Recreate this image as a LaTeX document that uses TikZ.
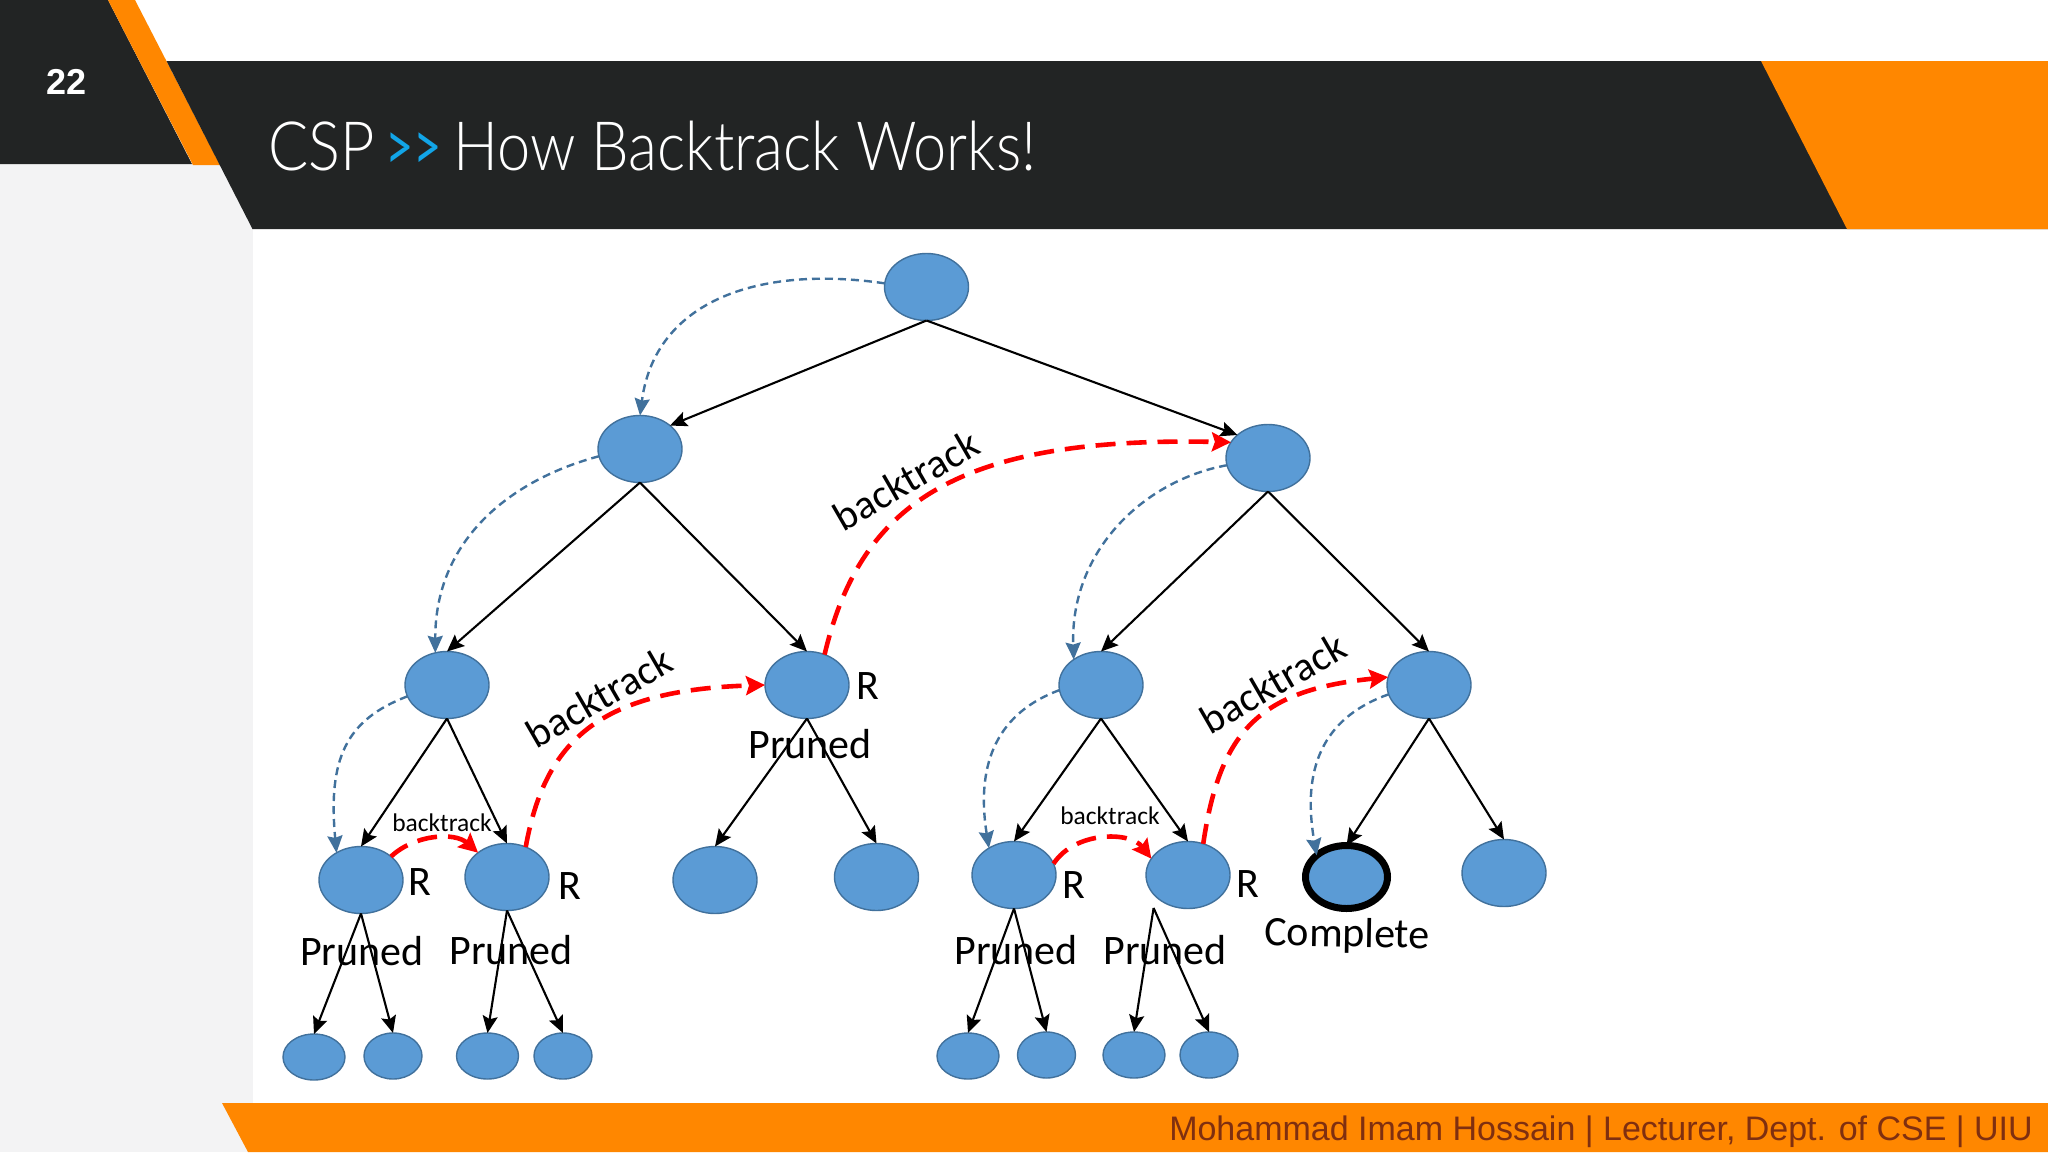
\documentclass[tikz,border=0pt]{standalone}
\usepackage{fontspec}
\usepackage{graphicx}
\setmainfont{Carlito}
\newfontfamily\sansf{Liberation Sans}
\newfontfamily\titlef{Lato Light}[FakeStretch=0.875]
\newfontfamily\titleg{Lato}[FakeStretch=0.72]
\usetikzlibrary{arrows.meta,shapes.geometric}
\definecolor{darkband}{HTML}{222424}
\definecolor{orangeb}{HTML}{FF8700}
\definecolor{greyp}{HTML}{F3F3F4}
\definecolor{nodefill}{HTML}{5B9BD5}
\definecolor{nodeline}{HTML}{41719C}
\definecolor{footc}{HTML}{7F2F10}
\definecolor{titleblue}{HTML}{12A5E8}
\tikzset{
  st/.style={ellipse,draw=nodeline,fill=nodefill,line width=1.4pt,inner sep=0pt,outer sep=0pt},
  big/.style={st,minimum width=84pt,minimum height=67pt},
  leafa/.style={st,minimum width=62pt,minimum height=46pt},
  leafb/.style={st,minimum width=58pt,minimum height=46pt},
  goal/.style={st,draw=black,line width=7pt,minimum width=82pt,minimum height=63pt},
  edge/.style={black,line width=2.1pt,-{Stealth[length=17pt,width=15pt,inset=3pt]}},
  dfs/.style={nodeline,line width=2.4pt,dash pattern=on 8pt off 5pt,-{Stealth[length=17pt,width=15pt,inset=2pt]}},
  bt/.style={red,line width=4.6pt,dash pattern=on 20pt off 11pt,-{Stealth[length=19pt,width=19pt,inset=3pt]}},
  lblbig/.style={font=\fontsize{41pt}{41pt}\selectfont,inner sep=0pt,rotate=30},
  lblsmall/.style={font=\fontsize{25.5pt}{26pt}\selectfont,inner sep=0pt},
  pr/.style={font=\fontsize{42pt}{42pt}\selectfont,inner sep=0pt,anchor=base},
  rr/.style={font=\fontsize{42pt}{42pt}\selectfont,inner sep=0pt,anchor=base},
}
\begin{document}
\begin{tikzpicture}[x=1pt,y=-1pt]
\useasboundingbox (0,0) rectangle (2048,1152);
% slide background
\fill[white] (0,0) rectangle (2048,1152);
\fill[greyp] (0,163) rectangle (252.5,1152);
\fill[darkband] (0,0) -- (108,0) -- (192,164) -- (0,164) -- cycle;
\fill[orangeb] (108,0) -- (135,0) -- (220,165) -- (193,165) -- cycle;
\fill[darkband] (166.5,61) -- (2048,61) -- (2048,229) -- (252.5,229) -- cycle;
\fill[orangeb] (1761,61) -- (2048,61) -- (2048,229) -- (1847,229) -- cycle;
\fill[orangeb] (222,1103) -- (2048,1103) -- (2048,1152) -- (248,1152) -- cycle;
% slide texts
\node[font=\sansf\bfseries\fontsize{36pt}{36pt}\selectfont,white,inner sep=0pt] (pg) at (66.5,82) {22};
\node[font=\titlef\fontsize{68pt}{68pt}\selectfont,white,inner sep=0pt,anchor=base west] (t1) at (268,170) {CSP};
\node[font=\titleg\fontsize{68pt}{68pt}\selectfont,titleblue,inner sep=0pt,anchor=base west] (t2) at (385,170) {>>};
\node[font=\titlef\fontsize{68pt}{68pt}\selectfont,white,inner sep=0pt,anchor=base west] (t3) at (453,170) {How Backtrack Works!};
\node[font=\sansf\fontsize{34pt}{34pt}\selectfont,footc,inner sep=0pt,anchor=base east] (ft) at (2033,1140) {Mohammad Imam Hossain | Lecturer, Dept. of CSE | UIU};
% tree nodes
\node[big] (root) at (926.5,287) {};
\node[big] (L) at (640,449) {};
\node[big] (R) at (1268,458) {};
\node[big] (LL) at (447,685) {};
\node[big] (LR) at (807,685) {};
\node[big] (RL) at (1101,685) {};
\node[big] (RR) at (1429,685) {};
\node[big] (LLL) at (361,880) {};
\node[big] (LLR) at (507,877) {};
\node[big] (LRL) at (715,880) {};
\node[big] (LRR) at (876.5,877) {};
\node[big] (RLL) at (1014,875) {};
\node[big] (RLR) at (1188,875) {};
\node[goal] (RRL) at (1346.5,877) {};
\node[big] (RRR) at (1504,873) {};
\node[leafa] (a1) at (314,1057) {};
\node[leafb] (a2) at (393,1056) {};
\node[leafa] (a3) at (487.5,1056) {};
\node[leafb] (a4) at (563,1056) {};
\node[leafa] (b1) at (968,1056) {};
\node[leafb] (b2) at (1046.5,1055) {};
\node[leafa] (b3) at (1134,1055) {};
\node[leafb] (b4) at (1209,1055) {};
\coordinate (fork) at (1153.6,908);
% labels under the edges
\node[pr] (p0) at (810,758) {Pruned};
\node[pr] (p1) at (362,965) {Pruned};
\node[pr] (p2) at (511,964) {Pruned};
\node[pr] (p3) at (1016,964) {Pruned};
\node[pr] (p4) at (1165,964) {Pruned};
\node[pr,rotate=-1] (cp) at (1347,947) {Complete};
\node[rr] (r0) at (868,699) {R};
\node[rr] (r1) at (420,895) {R};
\node[rr] (r2) at (570,899) {R};
\node[rr] (r3) at (1074,898) {R};
\node[rr] (r4) at (1248,897) {R};
\node[lblbig] (bk1) at (599,697) {backtrack};
\node[lblbig] (bk2) at (906,480) {backtrack};
\node[lblbig] (bk3) at (1273,683) {backtrack};
\node[lblsmall] (bk4) at (442,823) {backtrack};
\node[lblsmall] (bk5) at (1110,816) {backtrack};
% tree edges
\draw[edge] (root.south) -- (L.38);
\draw[edge] (root.south) -- (R.143);
\draw[edge] (L.south) -- (LL.north);
\draw[edge] (L.south) -- (LR.north);
\draw[edge] (R.south) -- (RL.north);
\draw[edge] (R.south) -- (RR.north);
\draw[edge] (LL.south) -- (LLL.north);
\draw[edge] (LL.south) -- (LLR.north);
\draw[edge] (LR.south) -- (LRL.north);
\draw[edge] (LR.south) -- (LRR.north);
\draw[edge] (RL.south) -- (RLL.north);
\draw[edge] (RL.south) -- (RLR.north);
\draw[edge] (RR.south) -- (RRL.north);
\draw[edge] (RR.south) -- (RRR.north);
\draw[edge] (LLL.south) -- (a1.north);
\draw[edge] (LLL.south) -- (a2.north);
\draw[edge] (LLR.south) -- (a3.north);
\draw[edge] (LLR.south) -- (a4.north);
\draw[edge] (RLL.south) -- (b1.north);
\draw[edge] (RLL.south) -- (b2.north);
\draw[edge] (fork) -- (b3.north);
\draw[edge] (fork) -- (b4.north);
% depth-first order (blue dashed)
\draw[dfs] (root.175) .. controls (760,265) and (655,300) .. (L.north);
\draw[dfs] (L.190) .. controls (510,480) and (435,540) .. (LL.110);
\draw[dfs] (R.190) .. controls (1145,480) and (1070,550) .. (RL.137);
\draw[dfs] (LL.196) .. controls (345,720) and (328,760) .. (LLL.132);
\draw[dfs] (RL.187) .. controls (1000,712) and (975,760) .. (RLL.133);
\draw[dfs] (RR.193) .. controls (1330,715) and (1300,760) .. (RRL.144);
% backtracks (red dashed)
\draw[bt] (LLL.38) .. controls (415,834) and (455,832) .. (LLR.140);
\draw[bt] (LLR.58) .. controls (545,740) and (600,690) .. (LR.west);
\draw[bt] (LR.60) .. controls (860,505) and (955,436) .. (R.157);
\draw[bt] (RLL.16) .. controls (1075,831) and (1130,831) .. (RLR.156);
\draw[bt] (RLR.64) .. controls (1220,730) and (1260,690) .. (RR.169);
\end{tikzpicture}
\end{document}
